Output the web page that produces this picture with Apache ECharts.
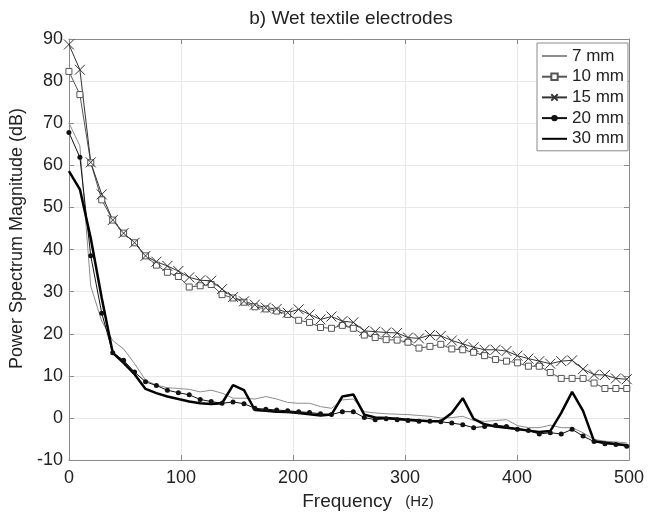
<!DOCTYPE html>
<html>
<head>
<meta charset="utf-8">
<script src="https://cdn.jsdelivr.net/npm/echarts@6/dist/echarts.min.js"></script>
<style>
  html, body { margin: 0; padding: 0; background: #fff; }
  #chart { width: 655px; height: 516px; }
</style>
</head>
<body>
<div id="chart"></div>
<script>
// frequency bins (Hz)
var freq = [0, 9.8, 19.5, 29.3, 39.1, 48.8, 58.6, 68.4, 78.1, 87.9, 97.7, 107.4, 117.2, 127, 136.7,
  146.5, 156.3, 166, 175.8, 185.5, 195.3, 205.1, 214.8, 224.6, 234.4, 244.1, 253.9, 263.7, 273.4,
  283.2, 293, 302.7, 312.5, 322.3, 332, 341.8, 351.6, 361.3, 371.1, 380.9, 390.6, 400.4, 410.2,
  419.9, 429.7, 439.5, 449.2, 459, 468.8, 478.5, 488.3, 498]

var mm7 = [70.1, 64.6, 31.3, 23.0, 18.4, 16.4, 12.9, 9.0, 7.8, 7.2, 7.0, 6.8, 6.2, 6.6, 5.9,
  4.7, 4.7, 4.5, 5.1, 4.5, 3.7, 3.5, 3.5, 2.7, 2.3, 4.3, 4.5, 1.5, 1.2, 1.0, 0.9, 0.8, 0.6,
  0.4, 0.0, 0.1, 0.4, -0.6, -0.8, -0.6, -0.4, -1.8, -2.3, -2.3, -1.7, -2.3, -2.3, -3.5, -5.1,
  -5.5, -5.7, -5.9]
var mm10 = [82.3, 76.8, 60.6, 51.8, 47.0, 43.9, 41.6, 38.5, 36.3, 34.6, 33.6, 31.1, 31.4, 31.7,
  29.3, 28.5, 27.5, 26.4, 25.9, 25.4, 24.6, 23.2, 22.7, 21.5, 21.3, 22.0, 21.3, 19.7, 19.1,
  18.6, 18.5, 18.0, 16.6, 17.0, 17.5, 16.4, 16.2, 15.6, 14.8, 13.9, 13.5, 13.1, 12.3, 12.3,
  10.8, 9.4, 9.4, 9.4, 8.3, 7.0, 7.0, 7.0]
var mm15 = [88.7, 82.7, 60.7, 53.1, 47.0, 43.9, 41.6, 38.5, 37.1, 36.1, 34.9, 33.4, 32.7, 32.6,
  30.6, 28.7, 27.7, 26.9, 26.2, 25.9, 25.0, 25.8, 24.6, 23.4, 24.1, 23.0, 22.7, 20.7, 20.5,
  20.3, 20.2, 19.1, 18.9, 19.7, 19.5, 18.4, 17.6, 16.8, 16.2, 16.2, 15.9, 14.8, 14.1, 13.5,
  12.9, 13.5, 13.7, 11.6, 10.3, 10.2, 9.4, 9.2]
var mm20 = [67.8, 61.9, 38.5, 24.9, 15.5, 13.7, 10.9, 8.6, 7.7, 6.6, 6.0, 5.5, 4.4, 3.9, 3.5,
  3.8, 3.4, 2.3, 2.1, 1.9, 1.7, 1.5, 1.3, 1.0, 0.8, 1.5, 1.5, 0.1, -0.4, -0.2, -0.4, -0.6,
  -0.8, -0.8, -0.9, -1.2, -1.6, -2.3, -2.0, -1.7, -2.0, -2.7, -3.0, -3.8, -3.5, -3.8, -2.7,
  -4.3, -5.6, -6.1, -6.3, -6.7]
var mm30 = [58.6, 54.3, 42.7, 28.5, 15.5, 13.1, 10.4, 6.9, 5.9, 5.1, 4.5, 3.9, 3.5, 3.3, 3.5,
  7.8, 6.6, 1.9, 1.7, 1.5, 1.4, 1.2, 0.9, 0.6, 0.8, 5.1, 5.6, 0.8, 0.1, 0.0, -0.2, -0.4, -0.6,
  -0.8, -0.8, 1.2, 4.7, -0.2, -1.5, -2.0, -2.3, -2.6, -3.0, -3.3, -3.1, 1.2, 6.2, 1.7, -5.5,
  -5.9, -6.2, -6.5]

var seriesNames = ['7 mm', '10 mm', '15 mm', '20 mm', '30 mm']

function pairs(vals) {
  return freq.map(function(f, i) { return [f, vals[i]] })
}

var font = 'Liberation Sans, Arial, sans-serif'
var axisGray = '#8a8a8a'
var textColor = '#222'
var noMarker = { opacity: 0 }

var chart = echarts.init(document.getElementById('chart'))
chart.setOption({
  animation: false,
  backgroundColor: '#fff',
  textStyle: { fontFamily: font },
  title: {
    text: 'b) Wet textile electrodes',
    left: 346,
    textAlign: 'center',
    top: 4,
    textStyle: { fontSize: 19, fontWeight: 'normal', color: textColor, fontFamily: font }
  },
  grid: { left: 63, right: 26, top: 39, bottom: 50 },
  legend: {
    orient: 'vertical',
    left: 537,
    top: 43,
    padding: [4, 4, 3, 4],
    itemGap: 2.7,
    itemWidth: 25,
    itemHeight: 8,
    borderColor: axisGray,
    borderWidth: 1,
    backgroundColor: '#fff',
    textStyle: { fontSize: 17, color: textColor, fontFamily: font, lineHeight: 18 },
    data: [
      { name: seriesNames[0], itemStyle: noMarker },
      { name: seriesNames[1] },
      { name: seriesNames[2] },
      { name: seriesNames[3] },
      { name: seriesNames[4], itemStyle: noMarker }
    ]
  },
  xAxis: [{
    type: 'value',
    min: 0,
    max: 500,
    interval: 100,
    name: '{a|Frequency}    {b|(Hz)}',
    nameLocation: 'middle',
    nameGap: 30,
    nameTextStyle: {
      color: textColor,
      padding: [0, 0, 0, 38],
      rich: {
        a: { fontSize: 19, color: textColor, fontFamily: font },
        b: { fontSize: 15, color: textColor, fontFamily: font }
      }
    },
    axisLine: { show: true, onZero: false, lineStyle: { color: axisGray } },
    axisTick: { inside: true, length: 5, lineStyle: { color: axisGray } },
    axisLabel: { fontSize: 18, color: textColor, margin: 9 },
    splitLine: { show: true, lineStyle: { color: '#e8e8e8' } }
  }, {
    type: 'value',
    position: 'top',
    min: 0,
    max: 500,
    interval: 100,
    axisLine: { show: true, onZero: false, lineStyle: { color: axisGray } },
    axisTick: { inside: true, length: 5, lineStyle: { color: axisGray } },
    axisLabel: { show: false },
    splitLine: { show: false }
  }],
  yAxis: [{
    type: 'value',
    min: -10,
    max: 90,
    interval: 10,
    name: 'Power Spectrum Magnitude (dB)',
    nameLocation: 'middle',
    nameGap: 31,
    nameTextStyle: { fontSize: 18, color: textColor, padding: [0, 0, 0, 22] },
    axisLine: { show: true, onZero: false, lineStyle: { color: axisGray } },
    axisTick: { inside: true, length: 5, lineStyle: { color: axisGray } },
    axisLabel: { fontSize: 18, color: textColor, margin: 6 },
    splitLine: { show: true, lineStyle: { color: '#e8e8e8' } }
  }, {
    type: 'value',
    position: 'right',
    min: -10,
    max: 90,
    interval: 10,
    axisLine: { show: true, onZero: false, lineStyle: { color: axisGray } },
    axisTick: { inside: true, length: 5, lineStyle: { color: axisGray } },
    axisLabel: { show: false },
    splitLine: { show: false }
  }],
  series: [{
    name: seriesNames[0],
    type: 'line',
    data: pairs(mm7),
    symbol: 'none',
    lineStyle: { color: '#8c8c8c', width: 1 },
    itemStyle: { color: '#8c8c8c' }
  }, {
    name: seriesNames[1],
    type: 'line',
    data: pairs(mm10),
    symbol: 'rect',
    symbolSize: 6,
    showAllSymbol: true,
    lineStyle: { color: '#555', width: 1 },
    itemStyle: { color: '#fff', borderColor: '#555', borderWidth: 1 }
  }, {
    name: seriesNames[2],
    type: 'line',
    data: pairs(mm15),
    symbol: 'path://M0,0L10,10M10,0L0,10',
    symbolSize: 10,
    showAllSymbol: true,
    lineStyle: { color: '#333', width: 1 },
    itemStyle: { color: 'rgba(0,0,0,0)', borderColor: '#333', borderWidth: 1 }
  }, {
    name: seriesNames[3],
    type: 'line',
    data: pairs(mm20),
    symbol: 'circle',
    symbolSize: 5,
    showAllSymbol: true,
    lineStyle: { color: '#111', width: 1 },
    itemStyle: { color: '#111' }
  }, {
    name: seriesNames[4],
    type: 'line',
    data: pairs(mm30),
    symbol: 'none',
    lineStyle: { color: '#000', width: 2.5 },
    itemStyle: { color: '#000' }
  }]
})
</script>
</body>
</html>
